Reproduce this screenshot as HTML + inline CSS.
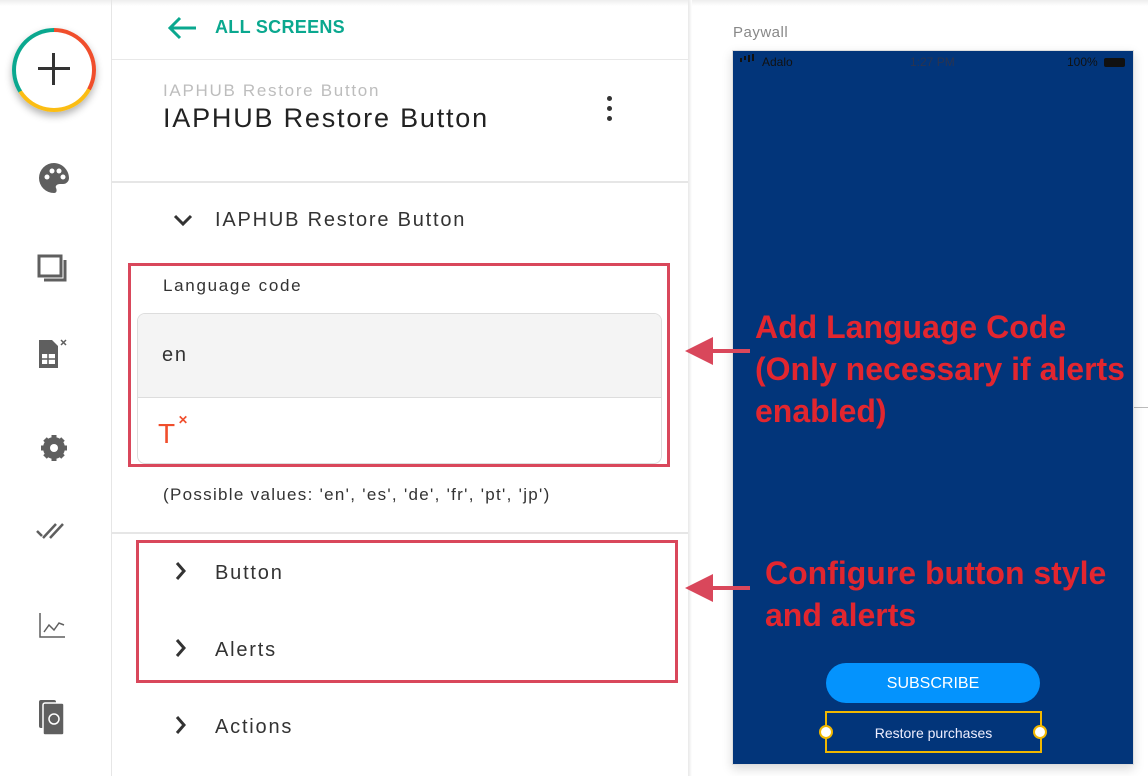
<!DOCTYPE html>
<html><head><meta charset="utf-8"><style>
*{margin:0;padding:0;box-sizing:border-box}
body{width:1148px;height:776px;overflow:hidden;background:#fff;font-family:"Liberation Sans",sans-serif;position:relative}
.a{position:absolute}
.t{color:#333;font-size:20px;letter-spacing:1.8px}
.ann{position:absolute;color:#e2262f;font-weight:bold;font-size:32px;line-height:42px;letter-spacing:0px;white-space:nowrap}
</style></head><body>
<div class="a" style="left:0;top:0;width:1148px;height:6px;background:linear-gradient(#eee,#fff)"></div>
<!-- sidebar -->
<div class="a" style="left:111px;top:0;width:1px;height:776px;background:#e6e6e6"></div>
<div class="a" style="left:12px;top:28px;width:84px;height:84px;border-radius:50%;box-shadow:0 4px 8px rgba(0,0,0,.3);background:conic-gradient(#f04e2c 0 33%,#fbbd14 33% 66%,#0aa88f 66% 100%)"></div>
<div class="a" style="left:16px;top:32px;width:76px;height:76px;border-radius:50%;background:#fff"></div>
<div class="a" style="left:38px;top:67px;width:32px;height:3px;background:#333"></div>
<div class="a" style="left:52px;top:53px;width:3px;height:32px;background:#333"></div>
<svg class="a" style="left:30px;top:160px" width="50" height="590" viewBox="0 0 50 590" fill="#5f5f5f">
<path d="M24 3a15 15 0 0 0 0 30c3 0 3-3 2-5s1-4 4-4h3a6 6 0 0 0 6-6C39 10 32 3 24 3z"/>
<circle cx="17" cy="17" r="2.5" fill="#fff"/><circle cx="22" cy="11" r="2.5" fill="#fff"/><circle cx="29" cy="11" r="2.5" fill="#fff"/><circle cx="33" cy="17" r="2.5" fill="#fff"/>
<rect x="9" y="96" width="22" height="20" fill="none" stroke="#5f5f5f" stroke-width="3"/><path d="M35 100v20H14" fill="none" stroke="#5f5f5f" stroke-width="3"/>
<path d="M9 180h13l6 6v22H9z"/><rect x="12" y="194" width="13" height="10" fill="#fff"/><path d="M12 199h13M18 194v10" stroke="#5f5f5f" stroke-width="1.5"/>
<path d="M31 180l5 5M36 180l-5 5" stroke="#5f5f5f" stroke-width="1.5"/>
<circle cx="24" cy="288" r="11"/><circle cx="24" cy="288" r="4" fill="#fff"/>
<path d="M11 288h26M24 275v26M15 279l18 18M33 279l-18 18" stroke="#5f5f5f" stroke-width="5"/><circle cx="24" cy="288" r="4" fill="#fff"/>
<path d="M7 371l5 5M13 378l13-14M20 378l13-14" stroke="#5f5f5f" stroke-width="2.5" fill="none"/>
<path d="M10 453v24h25" stroke="#5f5f5f" stroke-width="1.5" fill="none"/><path d="M14 472l5-7 5 5 5-7 5 2" stroke="#5f5f5f" stroke-width="1.5" fill="none"/>
<rect x="9" y="540" width="17" height="28" rx="2"/><rect x="13" y="543" width="21" height="32" rx="2" stroke="#fff" stroke-width="1.5"/><circle cx="24" cy="559" r="5" fill="none" stroke="#fff" stroke-width="1.5"/>
</svg>
<!-- panel -->
<div class="a" style="left:688px;top:0;width:4px;height:776px;background:linear-gradient(90deg,#e8e8e8,#fff)"></div>
<svg class="a" style="left:166px;top:16px" width="32" height="24"><path d="M4 12h26M14 2L4 12l10 10" stroke="#0aa88f" stroke-width="3" fill="none"/></svg>
<div class="a" style="left:215px;top:17px;color:#0aa88f;font-weight:bold;font-size:18px;letter-spacing:.3px">ALL SCREENS</div>
<div class="a" style="left:112px;top:59px;width:576px;height:1px;background:#e8e8e8"></div>
<div class="a" style="left:163px;top:81px;color:#bdbdbd;font-size:17px;letter-spacing:1.7px">IAPHUB Restore Button</div>
<div class="a" style="left:163px;top:103px;color:#222;font-size:27px;letter-spacing:1.8px">IAPHUB Restore Button</div>
<div class="a" style="left:607px;top:96px;width:5px;height:5px;border-radius:50%;background:#333;box-shadow:0 10px 0 #333,0 20px 0 #333"></div>
<div class="a" style="left:112px;top:181px;width:576px;height:2px;background:#e6e6e6"></div>
<svg class="a" style="left:172px;top:212px" width="22" height="16"><path d="M3 4l8 8 8-8" stroke="#333" stroke-width="3" fill="none"/></svg>
<div class="a t" style="left:215px;top:209px">IAPHUB Restore Button</div>
<div class="a" style="left:163px;top:276px;color:#333;font-size:17px;letter-spacing:1.7px">Language code</div>
<div class="a" style="left:137px;top:313px;width:525px;height:151px;border:1px solid #ddd;border-radius:8px;overflow:hidden">
<div style="height:84px;background:#f4f4f4;border-bottom:1px solid #ddd"></div></div>
<div class="a t" style="left:162px;top:344px">en</div>
<div class="a" style="left:158px;top:418px;color:#f04e2c;font-size:28px">T</div>
<div class="a" style="left:178px;top:413px;color:#f04e2c;font-size:12px;font-weight:bold">✕</div>
<div class="a" style="left:128px;top:263px;width:542px;height:204px;border:3px solid #d9475b"></div>
<div class="a" style="left:163px;top:485px;color:#333;font-size:17px;letter-spacing:1.3px">(Possible values: 'en', 'es', 'de', 'fr', 'pt', 'jp')</div>
<div class="a" style="left:112px;top:532px;width:576px;height:2px;background:#e6e6e6"></div>
<svg class="a" style="left:172px;top:560px" width="20" height="200"><path d="M5 3l7 8-7 8M5 80l7 8-7 8M5 157l7 8-7 8" stroke="#333" stroke-width="3" fill="none"/></svg>
<div class="a t" style="left:215px;top:562px">Button</div>
<div class="a t" style="left:215px;top:639px">Alerts</div>
<div class="a t" style="left:215px;top:716px">Actions</div>
<div class="a" style="left:136px;top:540px;width:542px;height:143px;border:3px solid #d9475b"></div>
<!-- preview -->
<div class="a" style="left:733px;top:24px;color:#888;font-size:15px;letter-spacing:.5px">Paywall</div>
<div class="a" style="left:1133px;top:407px;width:15px;height:1px;background:#bbb"></div>
<div class="a" style="left:732px;top:50px;width:402px;height:715px;background:#02357a;border:1px solid #ddd;box-shadow:0 4px 10px rgba(0,0,0,.15)"></div>
<div class="a" style="left:762px;top:55px;color:#111;font-size:12px">Adalo</div>
<div class="a" style="left:740px;top:58px;width:2px;height:4px;background:#111;box-shadow:4px -2px 0 #111"></div><div class="a" style="left:748px;top:55px;width:2px;height:7px;background:#111;box-shadow:4px -1px 0 #111"></div>
<div class="a" style="left:910px;top:55px;color:#2a3450;font-size:12px">1:27 PM</div>
<div class="a" style="left:1067px;top:55px;color:#111;font-size:12px">100%</div>
<div class="a" style="left:1104px;top:58px;width:21px;height:9px;background:#111;border-radius:2px"></div>
<div class="a" style="left:826px;top:663px;width:214px;height:40px;border-radius:20px;background:#0493fd;color:#fff;font-size:16px;text-align:center;line-height:42px">SUBSCRIBE</div>
<div class="a" style="left:825px;top:711px;width:217px;height:42px;border:2px solid #f1b700;color:#eef;font-size:14px;text-align:center;line-height:40px">Restore purchases</div>
<div class="a" style="left:819px;top:725px;width:14px;height:14px;border-radius:50%;background:#fff;border:2px solid #f1b700"></div>
<div class="a" style="left:1033px;top:725px;width:14px;height:14px;border-radius:50%;background:#fff;border:2px solid #f1b700"></div>
<!-- annotations -->
<svg class="a" style="left:680px;top:330px" width="80" height="280"><g fill="#d9475b"><path d="M5 21L33 7v28z"/><rect x="30" y="19" width="40" height="4"/><path d="M5 258L33 244v28z"/><rect x="30" y="256" width="40" height="4"/></g></svg>
<div class="ann" style="left:755px;top:306px">Add Language Code<br>(Only necessary if alerts<br>enabled)</div>
<div class="ann" style="left:765px;top:552px">Configure button style<br>and alerts</div>
</body></html>
